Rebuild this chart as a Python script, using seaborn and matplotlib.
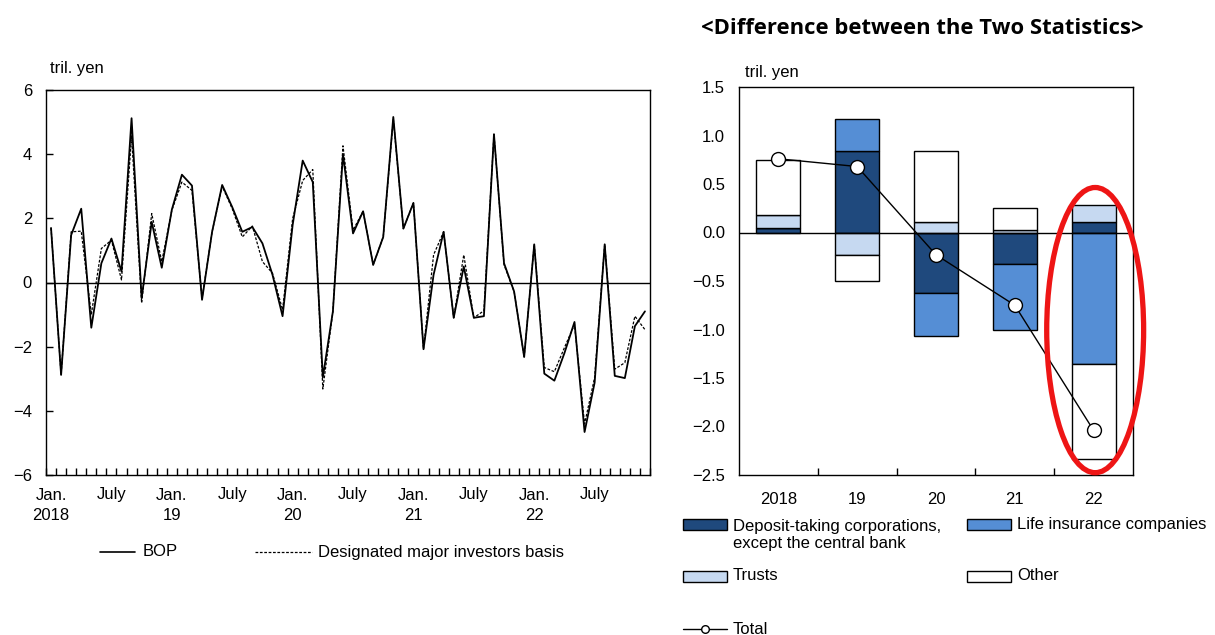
import numpy as np
import matplotlib
matplotlib.use("Agg")
import matplotlib.pyplot as plt
from matplotlib.ticker import FuncFormatter
from matplotlib.patches import Rectangle, Ellipse
from matplotlib.lines import Line2D
import seaborn as sns

# ---- monthly net flows, Jan. 2018 - Dec. 2022 (tril. yen) ----
bop = [1.70, -2.88, 1.48, 2.30, -1.41, 0.60, 1.37, 0.34, 5.12, -0.49, 1.89, 0.46,
       2.27, 3.36, 3.02, -0.54, 1.58, 3.04, 2.35, 1.58, 1.73, 1.22, 0.24, -1.05,
       1.79, 3.80, 3.13, -2.96, -0.90, 4.00, 1.53, 2.22, 0.55, 1.42, 5.16, 1.68,
       2.48, -2.08, 0.24, 1.58, -1.10, 0.50, -1.10, -1.05, 4.62, 0.60, -0.28, -2.32,
       1.19, -2.84, -3.06, -2.20, -1.23, -4.66, -3.12, 1.19, -2.91, -2.98, -1.36, -0.90]
major_investors = [1.70, -2.88, 1.58, 1.60, -1.00, 1.06, 1.32, 0.08, 4.57, -0.64, 2.15, 0.65,
                   2.25, 3.13, 2.87, -0.50, 1.58, 3.00, 2.30, 1.42, 1.76, 0.65, 0.29, -0.85,
                   1.99, 3.18, 3.52, -3.32, -0.90, 4.26, 1.63, 2.22, 0.55, 1.42, 5.10, 1.68,
                   2.48, -2.08, 0.86, 1.58, -1.10, 0.86, -1.10, -0.88, 4.62, 0.55, -0.28, -2.32,
                   1.19, -2.65, -2.78, -2.03, -1.31, -4.41, -2.96, 1.19, -2.70, -2.50, -1.05, -1.47]
month_labels = ["Jan.\n2018", "July", "Jan.\n19", "July", "Jan.\n20", "July",
                "Jan.\n21", "July", "Jan.\n22", "July"]

# ---- annual difference between the two statistics, by investor type ----
years = ["2018", "19", "20", "21", "22"]
deposit = [0.05, 0.84, -0.62, -0.32, 0.11]
life_ins = [0.00, 0.33, -0.45, -0.69, -1.36]
trusts = [0.13, -0.23, 0.11, 0.03, 0.17]
other = [0.57, -0.27, 0.73, 0.22, -0.97]
total = [0.76, 0.68, -0.23, -0.75, -2.04]

C_DEPOSIT = "#1F497D"
C_LIFE = "#558ED5"
C_TRUSTS = "#C6D9F1"
C_OTHER = "#FFFFFF"

sns.set_theme(style="white")
plt.rcParams["font.family"] = ["Liberation Sans", "DejaVu Sans"]
plt.rcParams["axes.unicode_minus"] = True
for key in ("text.color", "axes.labelcolor", "xtick.color", "ytick.color",
            "xtick.labelcolor", "ytick.labelcolor"):
    plt.rcParams[key] = "black"

W, H = 1215, 635
fig = plt.figure(figsize=(W / 100, H / 100), dpi=100)


def fx(px):
    return px / W


def fy(py):
    return 1 - py / H


def minus(fmt):
    def f(v, pos):
        if abs(v) < 1e-9:
            v = 0.0
        return format(v, fmt).replace("-", "\u2212")
    return FuncFormatter(f)


ax1 = fig.add_axes([fx(46), fy(475), fx(650) - fx(46), fy(90) - fy(475)])
ax2 = fig.add_axes([fx(739), fy(475), fx(1133) - fx(739), fy(87) - fy(475)])

for ax in (ax1, ax2):
    for sp in ax.spines.values():
        sp.set_color("black")
        sp.set_linewidth(1.0)

# ---- left panel: monthly lines ----
months = np.arange(len(bop))
sns.lineplot(x=months, y=major_investors, ax=ax1, color="black", lw=0.9,
             linestyle=(0, (2.2, 1.3)), legend=False)
sns.lineplot(x=months, y=bop, ax=ax1, color="black", lw=1.3, legend=False)
ax1.axhline(0, color="black", lw=1.0, zorder=1)
ax1.set_xlim(-0.5, len(bop) - 0.5)
ax1.set_ylim(-6, 6)
ax1.set_yticks(np.arange(-6, 7, 2))
ax1.yaxis.set_major_formatter(minus(".0f"))
ax1.set_xticks(months[::6])
ax1.set_xticklabels(month_labels)
for lab in ax1.get_xticklabels():
    lab.set_linespacing(1.5)
ax1.set_xticks(np.arange(-0.5, len(bop), 1), minor=True)
ax1.tick_params(axis="x", which="major", length=0, pad=9, labelsize=12)
ax1.tick_params(axis="x", which="minor", direction="in", length=5, width=1,
                bottom=True, color="black")
ax1.tick_params(axis="y", which="major", direction="in", length=5, width=1,
                left=True, pad=10, labelsize=12, color="black")
ax1.set_xlabel("")
ax1.set_ylabel("")

# ---- right panel: stacked contributions with total ----
pos_base = np.zeros(len(years))
neg_base = np.zeros(len(years))
for vals, col in [(deposit, C_DEPOSIT), (life_ins, C_LIFE),
                  (trusts, C_TRUSTS), (other, C_OTHER)]:
    v = np.asarray(vals, dtype=float)
    bottom = np.where(v >= 0, pos_base, neg_base)
    sns.barplot(x=years, y=v, bottom=bottom, order=years, color=col,
                saturation=1, edgecolor="black", linewidth=1.0, width=0.56,
                errorbar=None, ax=ax2, zorder=2)
    pos_base += np.where(v >= 0, v, 0)
    neg_base += np.where(v < 0, v, 0)

ax2.axhline(0, color="black", lw=1.0, zorder=3)
sns.lineplot(x=np.arange(len(years)), y=total, ax=ax2, color="black", lw=1.0,
             marker="o", markersize=10, markerfacecolor="white",
             markeredgecolor="black", markeredgewidth=1.0, legend=False, zorder=5)
ax2.set_xlim(-0.5, len(years) - 0.5)
ax2.set_ylim(-2.5, 1.5)
ax2.set_yticks(np.arange(-2.5, 1.51, 0.5))
ax2.yaxis.set_major_formatter(minus(".1f"))
ax2.set_xticks(np.arange(len(years)))
ax2.set_xticklabels(years)
ax2.set_xticks(np.arange(0.5, len(years) - 0.5, 1), minor=True)
ax2.tick_params(axis="x", which="major", length=0, pad=12, labelsize=12)
ax2.tick_params(axis="x", which="minor", direction="in", length=5, width=1,
                bottom=True, color="black")
ax2.tick_params(axis="y", which="major", direction="in", length=0, pad=10,
                labelsize=12)
ax2.set_xlabel("")
ax2.set_ylabel("")

ax2.add_patch(Ellipse((4.02, -1.006), width=1.23, height=2.94,
                      transform=ax2.transData, fill=False, edgecolor="#EE1515",
                      lw=3.8, clip_on=False, zorder=10))

# ---- texts ----
fig.text(fx(50), fy(68), "tril. yen", ha="left", va="center", size=12)
fig.text(fx(745), fy(72), "tril. yen", ha="left", va="center", size=12)
fig.text(fx(922), fy(28), "<Difference between the Two Statistics>",
         ha="center", va="center", fontsize=15.8, fontweight="bold",
         family=["Open Sans", "DejaVu Sans"])

# ---- left legend ----
fig.add_artist(Line2D([fx(100), fx(135)], [fy(552), fy(552)],
                      transform=fig.transFigure, color="black", lw=1.2))
fig.text(fx(143), fy(552), "BOP", ha="left", va="center", size=12)
fig.add_artist(Line2D([fx(255), fx(312)], [fy(552), fy(552)],
                      transform=fig.transFigure, color="black", lw=0.9,
                      linestyle=(0, (2.2, 1.3))))
fig.text(fx(318), fy(552), "Designated major investors basis",
         ha="left", va="center", size=12)


# ---- right legend ----
def legend_box(x0, yc, color, label, label_y=None):
    fig.patches.append(Rectangle((fx(x0), fy(yc + 5.5)), 44 / W, 11 / H,
                                 transform=fig.transFigure, facecolor=color,
                                 edgecolor="black", lw=1.0))
    fig.text(fx(x0 + 50), fy(label_y if label_y is not None else yc), label,
             ha="left", va="center", size=12)


legend_box(683, 524, C_DEPOSIT,
           "Deposit-taking corporations,\nexcept the central bank", label_y=535)
legend_box(967, 524, C_LIFE, "Life insurance companies")
legend_box(683, 576, C_TRUSTS, "Trusts")
legend_box(967, 576, C_OTHER, "Other")
fig.add_artist(Line2D([fx(683), fx(705), fx(727)], [fy(629)] * 3,
                      transform=fig.transFigure, color="black", lw=1.0,
                      marker="o", markevery=[1], markersize=5.5,
                      markerfacecolor="white", markeredgecolor="black"))
fig.text(fx(733), fy(629), "Total", ha="left", va="center", size=12)

fig.savefig("out.png", dpi=100)
